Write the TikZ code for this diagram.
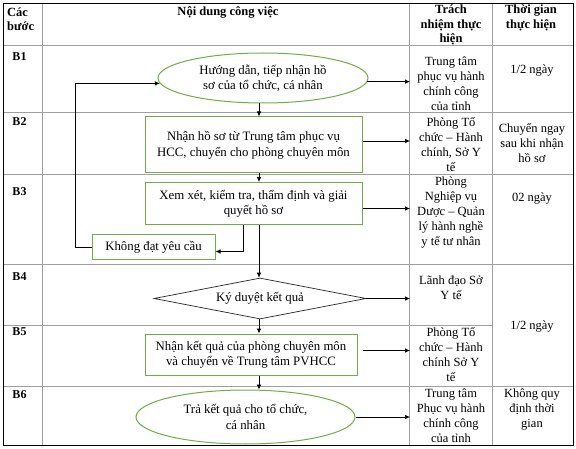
\documentclass[tikz,border=0pt]{standalone}
\usepackage{fontspec}
\setmainfont{Liberation Serif}
\usetikzlibrary{shapes.geometric,arrows.meta}
\definecolor{boxgreen}{RGB}{112,173,71}
\begin{document}
\begin{tikzpicture}[x=1pt,y=-1pt,
  every node/.style={font=\fontsize{12.5}{15}\selectfont, inner sep=0pt},
  gridline/.style={draw=gray!75, line width=1pt},
  outerline/.style={draw=black, line width=0.9pt},
  flowtxt/.style={font=\fontsize{12.8}{15.5}\selectfont, align=center},
  procbox/.style={flowtxt, draw=boxgreen, line width=1pt},
  term/.style={flowtxt, ellipse, draw=boxgreen, line width=1pt},
  dec/.style={flowtxt, diamond, draw=black!85, line width=0.7pt, aspect=5},
  arr/.style={-{Latex[length=5pt,width=4.5pt]}, line width=0.7pt},
  celltxt/.style={align=center},
  hdr/.style={font=\fontsize{12.5}{14.5}\selectfont\bfseries, align=center},
  steplabel/.style={font=\fontsize{12}{14}\selectfont\bfseries}
]
\useasboundingbox (0,0) rectangle (576,449);
% table grid
\draw[gridline] (3,46) -- (573,46);
\draw[gridline] (3,113) -- (573,113);
\draw[gridline] (3,175) -- (573,175);
\draw[gridline] (3,265) -- (573,265);
\draw[gridline] (3,325) -- (493,325);
\draw[gridline] (3,386) -- (573,386);
\draw[gridline] (42,3) -- (42,445);
\draw[gridline] (409,3) -- (409,445);
\draw[gridline] (492,3) -- (492,445);
\draw[outerline] (3,3) rectangle (573,445);
% header
\node[hdr, align=left, anchor=west] (h1) at (7,19) {Các\\bước};
\node[hdr] (h2) at (228,12) {Nội dung công việc};
\node[hdr] (h3) at (451,25) {Trách\\nhiệm thực\\hiện};
\node[hdr] (h4) at (531,18) {Thời gian\\thực hiện};
% step labels
\node[steplabel] (s1) at (19.5,57) {B1};
\node[steplabel] (s2) at (19.5,122) {B2};
\node[steplabel] (s3) at (19.5,192) {B3};
\node[steplabel] (s4) at (19.5,277) {B4};
\node[steplabel] (s5) at (19.5,332) {B5};
\node[steplabel] (s6) at (19.5,395) {B6};
% responsibility column
\node[celltxt] (r1) at (451,84) {Trung tâm\\phục vụ hành\\chính công\\của tỉnh};
\node[celltxt] (r2) at (451,144.5) {Phòng Tổ\\chức – Hành\\chính, Sở Y\\tế};
\node[celltxt] (r3) at (451,213) {Phòng\\Nghiệp vụ\\Dược – Quản\\lý hành nghề\\y tế tư nhân};
\node[celltxt] (r4) at (451,287.5) {Lãnh đạo Sở\\Y tế};
\node[celltxt] (r5) at (451,355) {Phòng Tổ\\chức – Hành\\chính Sở Y\\tế};
\node[celltxt] (r6) at (451,416) {Trung tâm\\Phục vụ hành\\chính công\\của tỉnh};
% time column
\node[celltxt] (t1) at (532,71) {1/2 ngày};
\node[celltxt] (t2) at (532,143) {Chuyển ngay\\sau khi nhận\\hồ sơ};
\node[celltxt] (t3) at (532,199) {02 ngày};
\node[celltxt] (t45) at (532,327) {1/2 ngày};
\node[celltxt] (t6) at (532,409) {Không quy\\định thời\\gian};
% flow
\node[term, minimum width=210, minimum height=50] (e1) at (263,78) {Hướng dẫn, tiếp nhận hồ\\sơ của tổ chức, cá nhân};
\node[procbox, minimum width=217, minimum height=56] (b2) at (253.5,145) {Nhận hồ sơ từ Trung tâm phục vụ\\HCC, chuyển cho phòng chuyên môn};
\node[procbox, minimum width=217, minimum height=42] (b3) at (253.5,203.5) {Xem xét, kiểm tra, thẩm định và giải\\quyết hồ sơ};
\node[procbox, minimum width=123, minimum height=25] (k) at (153.5,247.5) {Không đạt yêu cầu};
\node[dec, minimum width=212, minimum height=41] (d4) at (260,298.5) {Ký duyệt kết quả};
\node[procbox, minimum width=212, minimum height=41] (b5) at (251,354.5) {Nhận kết quả của phòng chuyên môn\\và chuyển về Trung tâm PVHCC};
\node[term, minimum width=219, minimum height=54] (e6) at (245.5,417) {Trả kết quả cho tổ chức,\\cá nhân};
\coordinate (c2) at (410,0);
\coordinate (spine) at (259,0);
\coordinate (loopx) at (75,0);
\coordinate (tapx) at (243,0);
% connectors
\draw[arr] (e1.358.5) -- (e1.358.5 -| c2);
\draw[arr] ([yshift=4pt]b2.east) -- ([yshift=4pt]b2.east -| c2);
\draw[arr] ([yshift=-5pt]b3.east) -- ([yshift=-5pt]b3.east -| c2);
\draw[arr] (d4.east) -- (d4.east -| c2);
\draw[arr] ([xshift=5pt,yshift=4pt]b5.east) -- ([yshift=4pt]b5.east -| c2);
\draw[arr] (e6.east) -- (e6.east -| c2);
\draw[arr] (e1.south -| spine) -- (b2.north -| spine);
\draw[arr] (b2.south -| spine) -- (b3.north -| spine);
\draw[arr] (b3.south -| spine) -- (d4.north -| spine);
\draw[arr] (d4.south -| spine) -- (b5.north -| spine);
\draw[arr] (b5.south -| spine) -- (e6.north -| spine);
\draw[arr] (b3.south -| tapx) |- ([yshift=-4pt]k.east);
\draw[arr] (k.west) -- (k.west -| loopx) |- (e1.183);
\end{tikzpicture}
\end{document}
